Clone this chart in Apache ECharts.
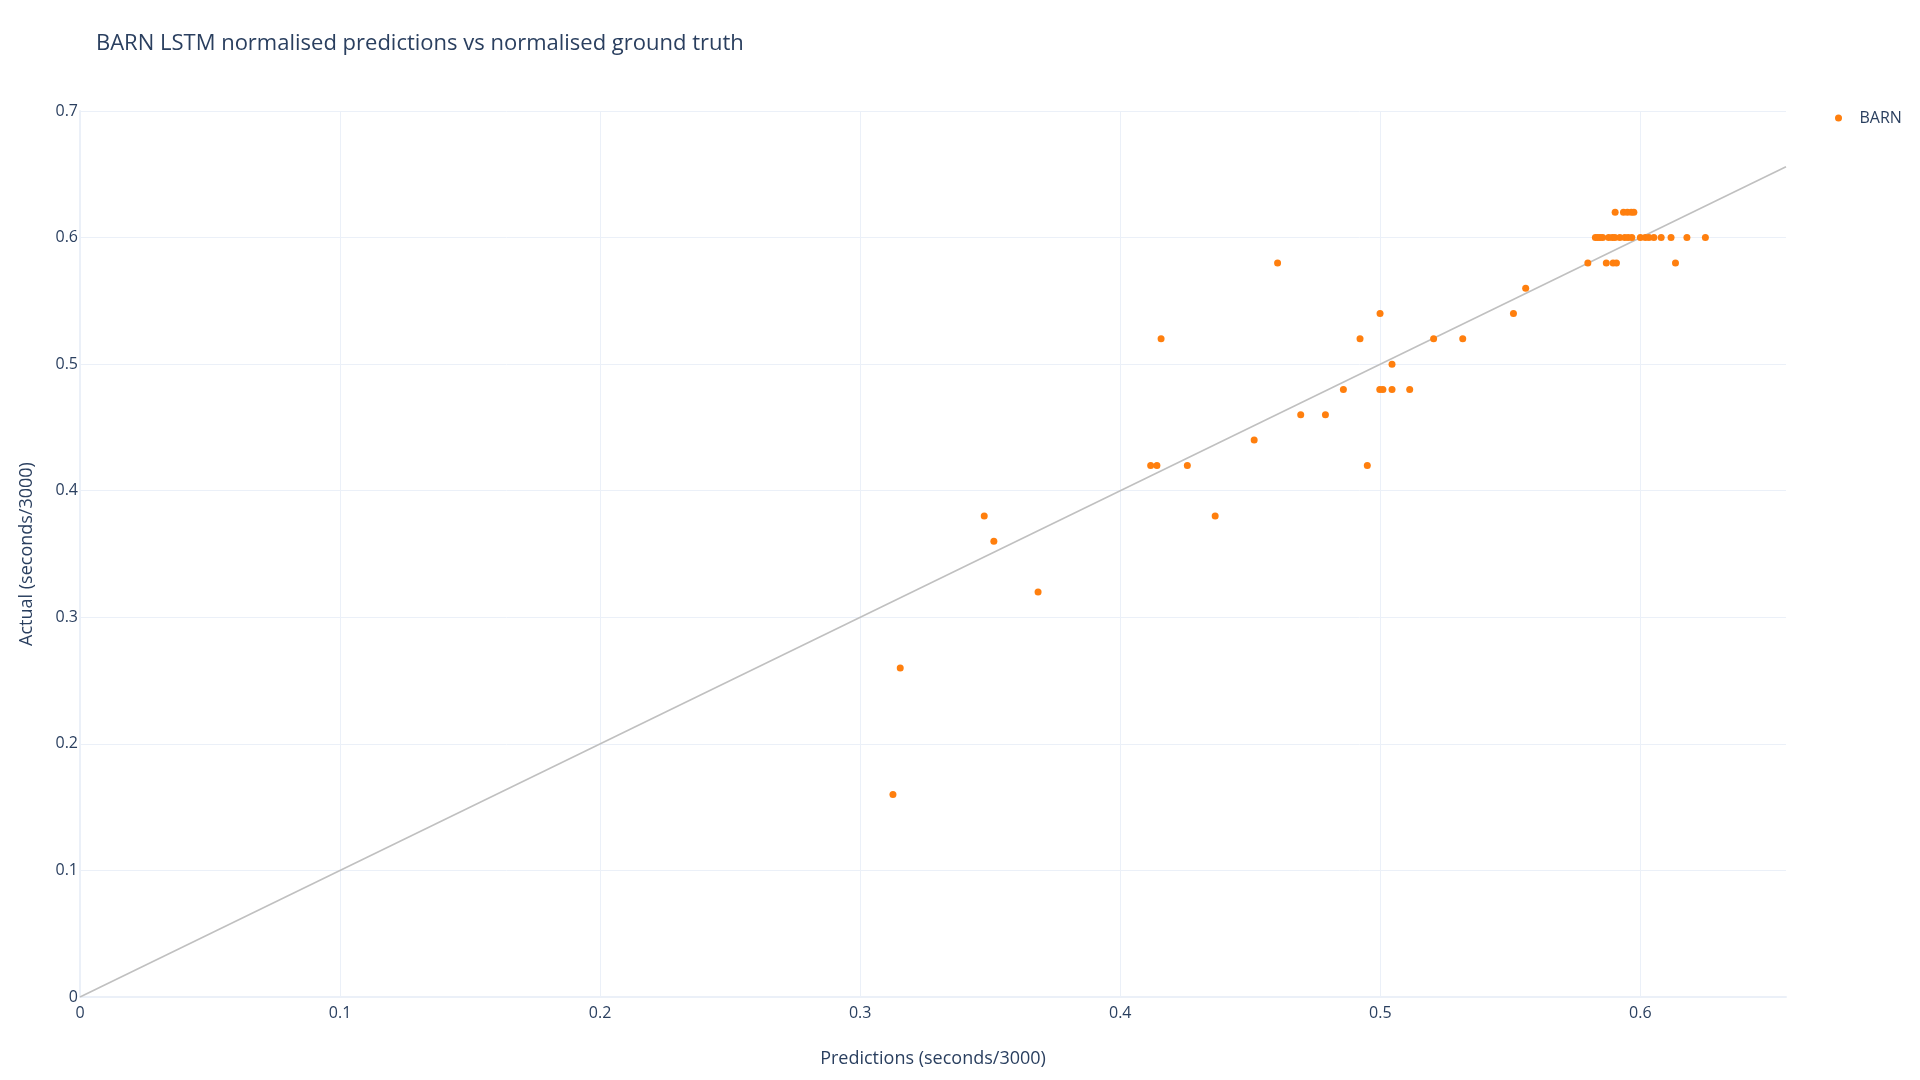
<!DOCTYPE html>
<html>
<head>
<meta charset="utf-8">
<title>BARN LSTM normalised predictions vs normalised ground truth</title>
<script src="https://cdn.jsdelivr.net/npm/echarts@6/dist/echarts.min.js"></script>
<style>
  html, body { margin: 0; padding: 0; background: #fff; }
  #chart { width: 1920px; height: 1080px; }
</style>
</head>
<body>
<div id="chart"></div>
<script>
// normalised model predictions (x) and ground truth (y)
const predictions = [
  0.3126, 0.3154, 0.3684, 0.3514, 0.3477, 0.4365, 0.4117, 0.4141, 0.4258, 0.4950,
  0.4515, 0.4694, 0.4789, 0.4858, 0.4998, 0.5010, 0.5045, 0.5113, 0.5045, 0.4157,
  0.4922, 0.5205, 0.5317, 0.4999, 0.5512, 0.5559, 0.4605, 0.5798, 0.5869, 0.5895,
  0.5908, 0.6135,
  0.5827, 0.5836, 0.5845, 0.5855, 0.5878, 0.5892, 0.5902, 0.5921, 0.5940, 0.5953,
  0.5967, 0.6000, 0.6019, 0.6033, 0.6052, 0.6080, 0.6118, 0.6179, 0.6250,
  0.5903, 0.5935, 0.5950, 0.5965, 0.5975,
];
const actuals = [
  0.16, 0.26, 0.32, 0.36, 0.38, 0.38, 0.42, 0.42, 0.42, 0.42,
  0.44, 0.46, 0.46, 0.48, 0.48, 0.48, 0.48, 0.48, 0.50, 0.52,
  0.52, 0.52, 0.52, 0.54, 0.54, 0.56, 0.58, 0.58, 0.58, 0.58,
  0.58, 0.58,
  0.60, 0.60, 0.60, 0.60, 0.60, 0.60, 0.60, 0.60, 0.60, 0.60,
  0.60, 0.60, 0.60, 0.60, 0.60, 0.60, 0.60, 0.60, 0.60,
  0.62, 0.62, 0.62, 0.62, 0.62,
];
// y = x reference line ends
const identityLine = [0, 0.656];
// vertical grid lines (x tick values, without the zero line)
const xGridTicks = [0.1, 0.2, 0.3, 0.4, 0.5, 0.6];

const xMax = 0.656;
const yMax = 0.7;

const textColor = '#2a3f5f';
const gridColor = '#ebf0f8';
const fontFamily = '"Open Sans", Roboto, Arial, sans-serif';

const chart = echarts.init(document.getElementById('chart'));

const points = predictions.map((p, i) => [p, actuals[i]]);

chart.setOption({
  animation: false,
  backgroundColor: '#fff',
  textStyle: { fontFamily, color: textColor },
  title: {
    text: 'BARN LSTM normalised predictions vs normalised ground truth',
    left: 96,
    top: 33,
    padding: 0,
    textStyle: { fontFamily, fontSize: 22, fontWeight: 'normal', color: textColor },
  },
  legend: {
    data: [{ name: 'BARN', icon: 'circle' }],
    left: 1830,
    top: 105,
    itemWidth: 32,
    itemHeight: 7,
    symbolKeepAspect: true,
    textStyle: { fontFamily, fontSize: 16, color: textColor },
  },
  grid: {
    left: 80,
    right: 134,
    top: 111,
    bottom: 83,
    containLabel: false,
  },
  xAxis: {
    type: 'value',
    min: 0,
    max: xMax,
    interval: 0.1,
    name: 'Predictions (seconds/3000)',
    nameLocation: 'middle',
    nameGap: 53,
    nameTextStyle: { fontFamily, fontSize: 18, color: textColor },
    axisLine: { show: true, onZero: false, lineStyle: { color: gridColor, width: 2 } },
    axisTick: { show: false },
    axisLabel: {
      fontFamily,
      fontSize: 16,
      color: textColor,
      margin: 8,
      showMaxLabel: false,
      formatter: (v) => (Math.abs(v * 10 - Math.round(v * 10)) < 1e-6 ? String(+v.toFixed(1)) : ''),
    },
    splitLine: { show: false },
  },
  yAxis: {
    type: 'value',
    min: 0,
    max: yMax,
    interval: 0.1,
    name: 'Actual (seconds/3000)',
    nameLocation: 'middle',
    nameGap: 44,
    nameTextStyle: { fontFamily, fontSize: 18, color: textColor },
    axisLine: { show: true, onZero: false, lineStyle: { color: gridColor, width: 2 } },
    axisTick: { show: false },
    axisLabel: {
      fontFamily,
      fontSize: 16,
      color: textColor,
      margin: 2,
      formatter: (v) => String(+v.toFixed(1)),
    },
    splitLine: { show: true, lineStyle: { color: gridColor, width: 1 } },
  },
  series: [
    {
      name: 'identity',
      type: 'line',
      data: identityLine.map((v) => [v, v]),
      symbol: 'none',
      silent: true,
      lineStyle: { color: '#c0c0c0', width: 1.6 },
      z: 1,
      markLine: {
        silent: true,
        symbol: 'none',
        label: { show: false },
        lineStyle: { color: gridColor, width: 1, type: 'solid' },
        data: xGridTicks.map((v) => ({ xAxis: v })),
        z: 0,
      },
    },
    {
      name: 'BARN',
      type: 'scatter',
      data: points,
      symbol: 'circle',
      symbolSize: 7,
      itemStyle: { color: '#ff7f0e', opacity: 1 },
      z: 2,
    },
  ],
});
</script>
</body>
</html>
